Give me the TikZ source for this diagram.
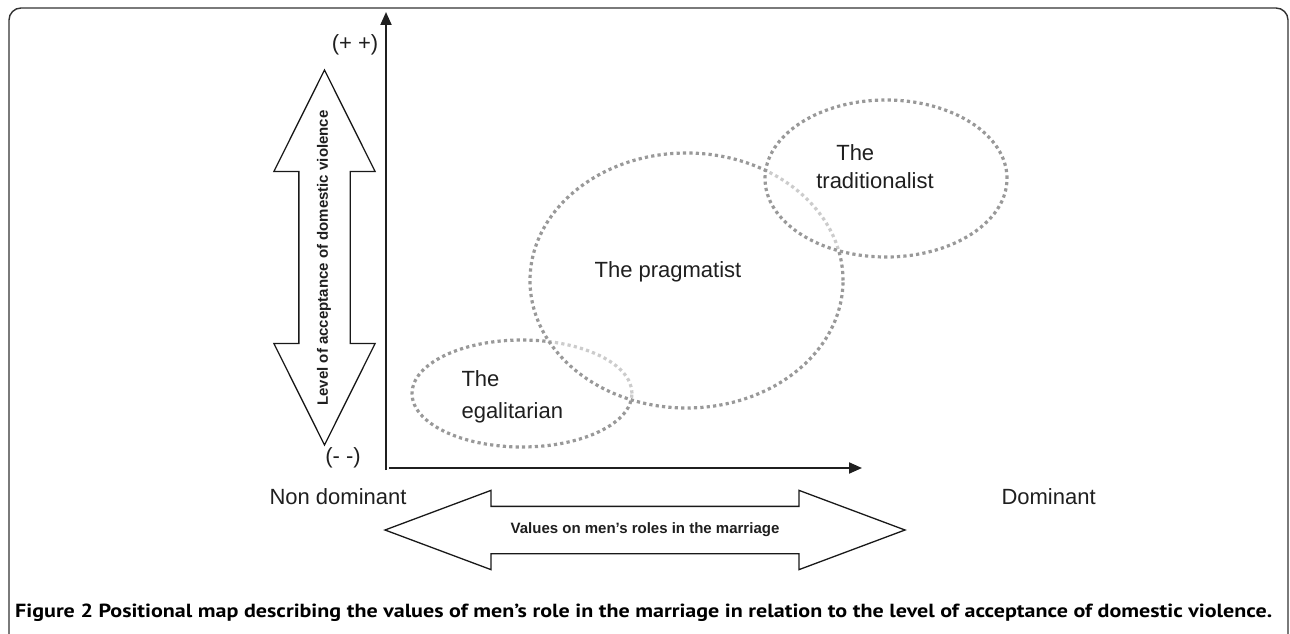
\documentclass[tikz,border=0pt]{standalone}
\usepackage{graphicx}
\usepackage{fontspec}
\setmainfont{Liberation Sans}
\newfontfamily\capfont{PT Sans}
\usetikzlibrary{shapes.geometric}
\usetikzlibrary{shapes.arrows}
\usetikzlibrary{arrows.meta}
\usetikzlibrary{positioning}

\tikzset{
  group/.style={ellipse, draw=black!40, line width=3.2pt, dash pattern=on 3.2pt off 3.2pt,
    fill=white, fill opacity=0.5, inner sep=0pt},
  grouplabel/.style={font=\fontsize{22}{28}\selectfont, text=black!88, align=left},
  axislabel/.style={font=\fontsize{22}{26}\selectfont, text=black!88},
  axisline/.style={line width=2pt, black!88, -{Triangle[length=13pt,width=11pt]}},
  bigarrow/.style={double arrow, draw=black!90, line width=1.3pt, fill=white,
    inner xsep=0pt, text height=0pt, text depth=0pt},
  arrowtext/.style={font=\fontsize{15}{18}\selectfont\bfseries, text=black!88},
}

\begin{document}
\begin{tikzpicture}[x=1pt,y=-1pt]
\useasboundingbox (0,0) rectangle (1290,634);
% frame
\draw[line width=1.4pt, black!80, rounded corners=12pt] (9,700) -- (9,8) -- (1288,8) -- (1288,700);

% axes
\coordinate (ybot) at (386,470);
\coordinate (ytop) at (386,12);
\coordinate (xleft) at (389,468);
\coordinate (xright) at (862,468);
\draw[axisline] (ybot) -- (ytop);
\draw[axisline] (xleft) -- (xright);
\node[axislabel] (plusplus) at (355,45) {(+ +)};
\node[axislabel] (minusminus) at (343,458) {(- -)};
\node[axislabel, anchor=west] (nondom) at (266,497) {Non dominant};
\node[axislabel, anchor=west] (dom) at (998,497) {Dominant};

% big double arrows
\node[bigarrow, rotate=90, minimum height=375pt, minimum width=101pt, inner ysep=25pt,
  double arrow head extend=25pt, double arrow tip angle=53] (accarrow) at (324.5,257.5) {};
\node[arrowtext, rotate=90] (acctext) at (324,258) {Level of acceptance of domestic violence};
\node[bigarrow, minimum height=520pt, minimum width=78pt, inner ysep=23pt,
  double arrow head extend=16pt, double arrow tip angle=41] (rolearrow) at (645,530) {};
\node[arrowtext] (roletext) at (645,530) {Values on men’s roles in the marriage};

% groups
\node[group, minimum width=220pt, minimum height=107pt] (egal) at (522,393.5) {};
\node[group, minimum width=313pt, minimum height=255pt] (prag) at (686.5,280.5) {};
\node[group, minimum width=242pt, minimum height=157pt] (trad) at (886,178.5) {};
\node[grouplabel, anchor=west] (egaltext) at (458,397) {The\\[4pt]egalitarian};
\node[grouplabel] (pragtext) at (668,272) {The pragmatist};
\node[grouplabel] (tradtext) at (875,167) {\hspace*{20pt}The\\traditionalist};

% caption
\node[anchor=west, inner sep=0pt] (caption) at (15,613) {\resizebox{1257pt}{\height}{\capfont\bfseries\fontsize{19}{22}\selectfont Figure 2 Positional map describing the values of men’s role in the marriage in relation to the level of acceptance of domestic violence.}};
\end{tikzpicture}
\end{document}
